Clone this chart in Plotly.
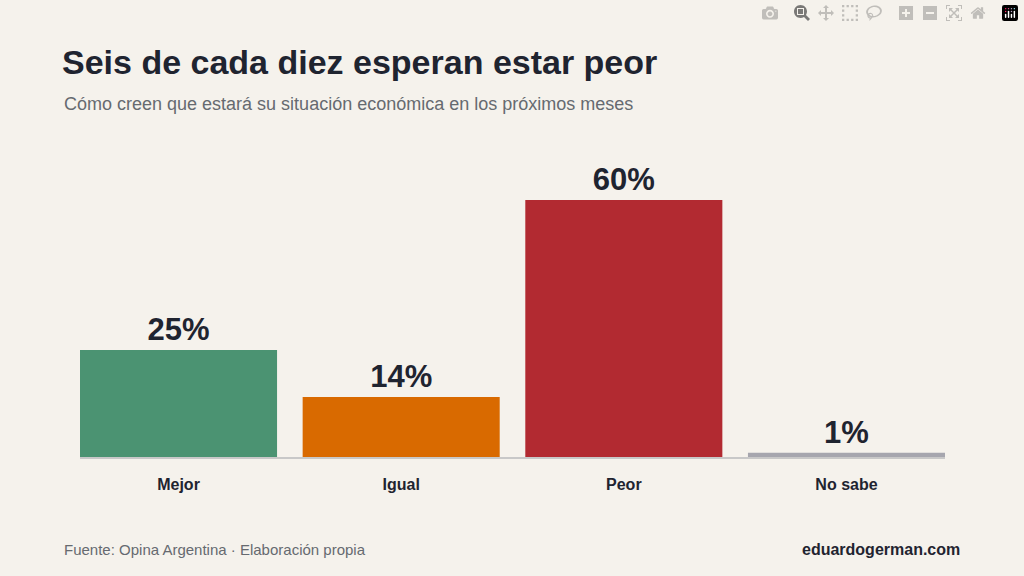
import plotly.graph_objects as go

categories = ["Mejor", "Igual", "Peor", "No sabe"]
values = [25, 14, 60, 1]
labels = ["25%", "14%", "60%", "1%"]
colors = ["#4b9372", "#d96a00", "#b22a31", "#a6a6ae"]

F = "Liberation Sans, Arial, sans-serif"
fig = go.Figure(go.Bar(
    x=categories, y=values, marker=dict(color=colors, line=dict(width=0)),
    text=["<b>" + l + "</b>" for l in labels], textposition="outside", cliponaxis=False,
    textfont=dict(family=F, size=31, color="#1f2430"),
))
fig.update_layout(
    width=1024, height=576,
    paper_bgcolor="#f5f2ec", plot_bgcolor="#f5f2ec",
    margin=dict(l=80, r=79, t=150, b=119),
    bargap=0.115, showlegend=False,
    font=dict(family=F),
    title=dict(text="<b>Seis de cada diez esperan estar peor</b>", x=62/1024, xanchor="left",
               y=1-62/576, yanchor="middle", xref="container", yref="container",
               font=dict(size=34, color="#1f2430", family=F)),
    xaxis=dict(showgrid=False, showline=True, linecolor="#c8c8c8", linewidth=2,
               range=[-0.4425, 3.4425],
               tickmode="array", tickvals=categories, ticktext=["<b>" + c + "</b>" for c in categories],
               tickfont=dict(size=16, color="#1f2430", family=F),
               ticks="", ticklabelstandoff=12),
    yaxis=dict(visible=False, range=[0, 71.7]),
    annotations=[
        dict(text="Cómo creen que estará su situación económica en los próximos meses", xref="paper", yref="paper",
             x=-18/865, y=1 + 46/307, xanchor="left", yanchor="middle", showarrow=False,
             font=dict(size=18, color="#666a70")),
        dict(text="Fuente: Opina Argentina · Elaboración propia", xref="paper", yref="paper",
             x=-18/865, y=-92/307, xanchor="left", yanchor="middle", showarrow=False,
             font=dict(size=15, color="#666a70")),
        dict(text="<b>eduardogerman.com</b>", xref="paper", yref="paper",
             x=1 + 17/865, y=-92/307, xanchor="right", yanchor="middle", showarrow=False,
             font=dict(size=16, color="#1f2430")),
    ],
)
fig.write_html("out.html", post_script="document.body.style.margin='0';document.body.style.background='#f5f2ec';")
